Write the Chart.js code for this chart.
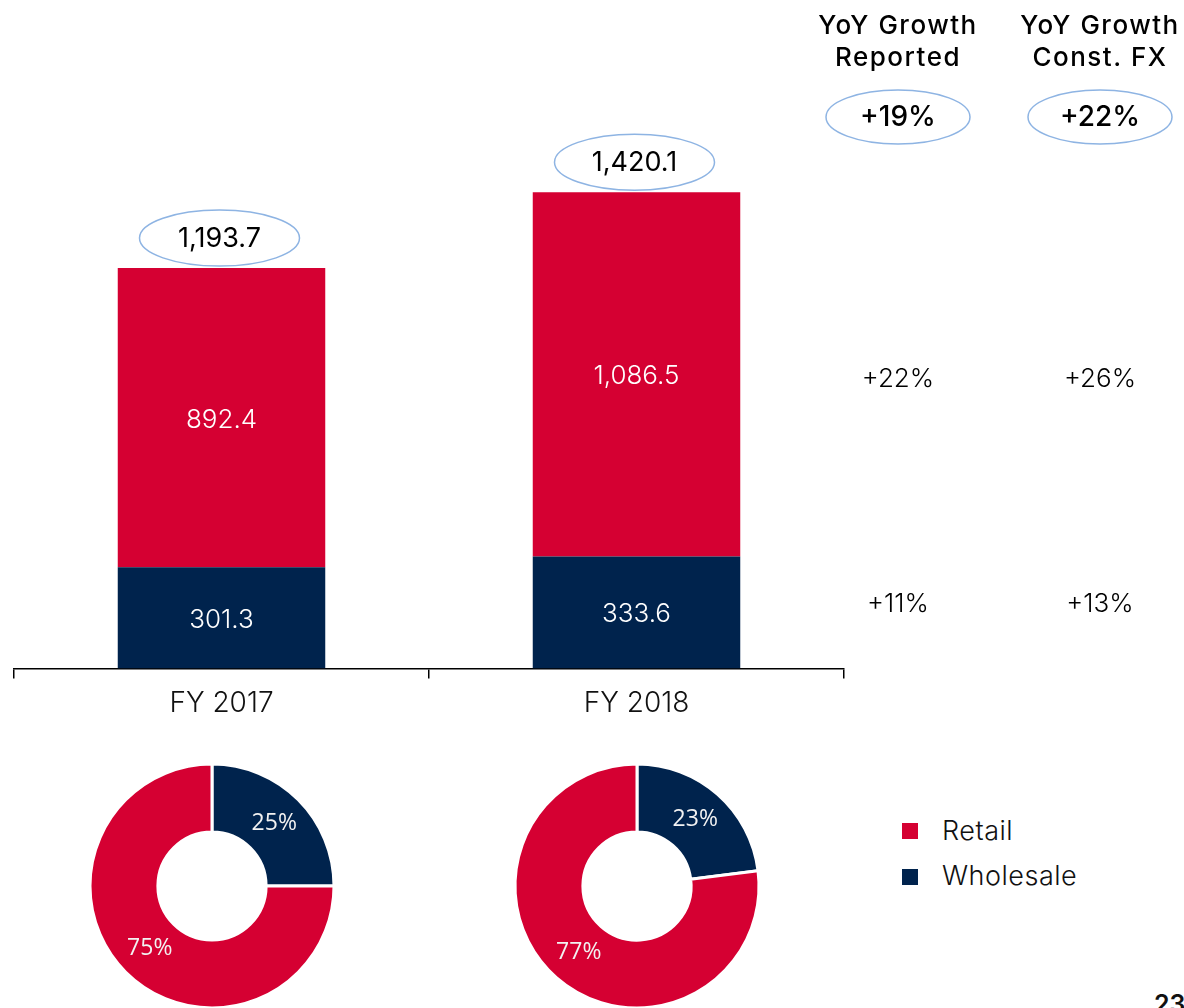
<!DOCTYPE html>
<html>
<head>
<meta charset="utf-8">
<script src="https://cdn.jsdelivr.net/npm/chart.js@4.4.1/dist/chart.umd.min.js"></script>
<style>
  body { margin: 0; width: 1184px; height: 1008px; overflow: hidden; background: #fff; position: relative; font-family: "Inter", "Noto Sans", sans-serif; }
  canvas { position: absolute; }
  #barChart { left: 0; top: 0; }
  #donut2017 { left: 82px; top: 756px; }
  #donut2018 { left: 507px; top: 756px; }
  .legend { position: absolute; left: 902px; font-size: 27px; font-weight: 300; color: #111; letter-spacing: 0.5px; }
  .legend span.box { position: absolute; left: 0; width: 16px; height: 16px; }
  .legend span.txt { position: absolute; left: 40px; white-space: nowrap; line-height: 28px; }
  #pageNo { position: absolute; left: 1154px; top: 989px; font-size: 25px; font-weight: 600; color: #111; }
</style>
</head>
<body>
<canvas id="barChart" width="1184" height="728"></canvas>
<canvas id="donut2017" width="260" height="260"></canvas>
<canvas id="donut2018" width="260" height="260"></canvas>
<div class="legend" style="top:823px"><span class="box" style="background:#D50032"></span><span class="txt" style="top:-6px">Retail</span></div>
<div class="legend" style="top:869px"><span class="box" style="background:#00234D"></span><span class="txt" style="top:-7px">Wholesale</span></div>
<div id="pageNo">23</div>
<script>
// дані графіка
const categories = ['FY 2017', 'FY 2018'];
const retail = [892.4, 1086.5];
const wholesale = [301.3, 333.6];
const totals = [1193.7, 1420.1];
const wholesaleShare = [25, 23];
const retailShare = [75, 77];
const growthHeaders = [['YoY Growth', 'Reported'], ['YoY Growth', 'Const. FX']];
const growthTotal = ['+19%', '+22%'];
const growthRetail = ['+22%', '+26%'];
const growthWholesale = ['+11%', '+13%'];

const RED = '#D50032';
const NAVY = '#00234D';
const RING = '#8EB4E3';
const FONT = '"Inter", "Noto Sans", sans-serif';

function fmt(v) {
    return v.toLocaleString('en-US', { minimumFractionDigits: 1, maximumFractionDigits: 1 });
}

const barLabels = {
    id: 'barLabels',
    afterDatasetsDraw(chart) {
        const ctx = chart.ctx;
        ctx.save();
        ctx.textAlign = 'center';
        ctx.textBaseline = 'middle';
        // значення всередині сегментів
        chart.data.datasets.forEach((ds, i) => {
            chart.getDatasetMeta(i).data.forEach((bar, j) => {
                ctx.fillStyle = '#fff';
                ctx.font = '300 26px ' + FONT;
                ctx.fillText(fmt(ds.data[j]), bar.x, (bar.y + bar.base) / 2 + 2);
            });
        });
        // підсумки в еліпсах
        const top = chart.getDatasetMeta(chart.data.datasets.length - 1).data;
        top.forEach((bar, j) => {
            const cy = bar.y - 30;
            ctx.beginPath();
            ctx.ellipse(bar.x - 2, cy, 80, 28, 0, 0, Math.PI * 2);
            ctx.strokeStyle = RING;
            ctx.lineWidth = 1.5;
            ctx.stroke();
            ctx.fillStyle = '#000';
            ctx.font = '400 27px ' + FONT;
            ctx.fillText(fmt(totals[j]), bar.x - 2, cy + 1);
        });
        // колонки зростання
        const colX = [898, 1100];
        colX.forEach((x, k) => {
            ctx.fillStyle = '#000';
            ctx.font = '500 26px ' + FONT;
            ctx.letterSpacing = '1.5px';
            ctx.fillText(growthHeaders[k][0], x, 26);
            ctx.fillText(growthHeaders[k][1], x, 58);
            ctx.letterSpacing = '0px';
            ctx.beginPath();
            ctx.ellipse(x, 117, 72, 27, 0, 0, Math.PI * 2);
            ctx.strokeStyle = RING;
            ctx.lineWidth = 1.5;
            ctx.stroke();
            ctx.font = '500 28px ' + FONT;
            ctx.fillText(growthTotal[k], x, 118);
            ctx.font = '300 26px ' + FONT;
            ctx.fillText(growthRetail[k], x, 379);
            ctx.fillText(growthWholesale[k], x, 604);
        });
        ctx.restore();
    }
};

new Chart(document.getElementById('barChart'), {
    type: 'bar',
    data: {
        labels: categories,
        datasets: [
            { label: 'Wholesale', data: wholesale, backgroundColor: NAVY },
            { label: 'Retail', data: retail, backgroundColor: RED }
        ]
    },
    options: {
        responsive: false,
        animation: false,
        devicePixelRatio: 1,
        layout: { padding: { left: 14, right: 340, top: 100, bottom: 0 } },
        datasets: { bar: { barPercentage: 1, categoryPercentage: 0.5 } },
        plugins: { legend: { display: false }, tooltip: { enabled: false } },
        scales: {
            x: {
                stacked: true,
                offset: true,
                grid: { offset: true, drawOnChartArea: false, drawTicks: true, tickLength: 10, color: '#000', lineWidth: 1.5 },
                border: { display: true, color: '#000', width: 1.5 },
                ticks: { color: '#111', font: { family: FONT, size: 28, weight: '300' }, padding: 8 }
            },
            y: { stacked: true, display: false, min: 0, max: 1695 }
        }
    },
    plugins: [barLabels]
});

const donutLabels = {
    id: 'donutLabels',
    afterDatasetsDraw(chart) {
        const ctx = chart.ctx;
        ctx.save();
        ctx.fillStyle = '#f2f2f2';
        ctx.font = '23px "Open Sans", sans-serif';
        ctx.textAlign = 'center';
        ctx.textBaseline = 'middle';
        const ds = chart.data.datasets[0];
        chart.getDatasetMeta(0).data.forEach((arc, i) => {
            const p = arc.tooltipPosition();
            ctx.fillText(ds.data[i] + '%', p.x, p.y);
        });
        ctx.restore();
    }
};

function donut(id, k) {
    new Chart(document.getElementById(id), {
        type: 'doughnut',
        data: {
            labels: ['Wholesale', 'Retail'],
            datasets: [{
                data: [wholesaleShare[k], retailShare[k]],
                backgroundColor: [NAVY, RED],
                borderColor: '#fff',
                borderWidth: 3
            }]
        },
        options: {
            responsive: false,
            animation: false,
            devicePixelRatio: 1,
            radius: 122,
            cutout: 57,
            plugins: { legend: { display: false }, tooltip: { enabled: false } }
        },
        plugins: [donutLabels]
    });
}
donut('donut2017', 0);
donut('donut2018', 1);
</script>
</body>
</html>
